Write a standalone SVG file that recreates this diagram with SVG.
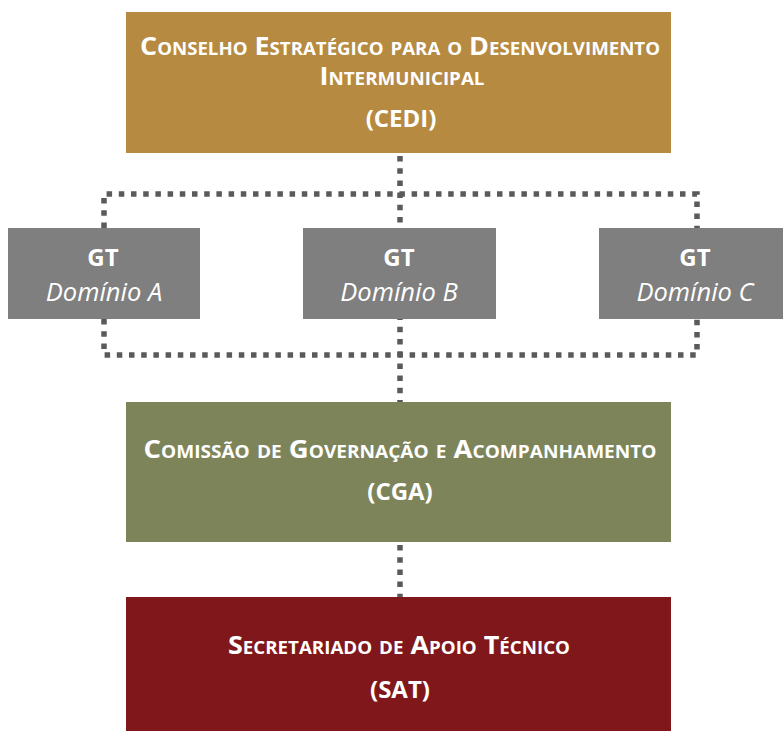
<svg xmlns="http://www.w3.org/2000/svg" width="783" height="731" viewBox="0 0 783 731">
<style>
.t{font-family:"Open Sans","Liberation Sans",sans-serif;font-weight:bold;fill:#fff;text-anchor:middle;font-variant:small-caps}
.g{font-family:"Open Sans","Liberation Sans",sans-serif;fill:#fff;text-anchor:middle}
.gt{font-size:24px;font-weight:bold}
.dm{font-size:25.5px;font-style:italic}
.dot{fill:none;stroke:#5a5a5a;stroke-width:5.5;stroke-dasharray:5.5 6.7}
</style>
<rect width="783" height="731" fill="#fff"/>
<g id="connectors">
<path class="dot" d="M400,156 V402"/>
<path class="dot" d="M104,228 V194 H697 V228"/>
<path class="dot" d="M104,319 V355 H697 V319"/>
<path class="dot" d="M400,545 V597"/>
</g>
<g id="cedi">
<rect x="126" y="12" width="545" height="141" fill="#b68a40"/>
<text class="t" x="400" y="55" font-size="24.5" textLength="520" lengthAdjust="spacingAndGlyphs">Conselho Estratégico para o Desenvolvimento</text>
<text class="t" x="402" y="85" font-size="24.5" textLength="165" lengthAdjust="spacingAndGlyphs">Intermunicipal</text>
<text class="t" x="401" y="127" font-size="24">(CEDI)</text>
</g>
<g id="gt-a">
<rect x="8" y="228" width="192" height="91" fill="#7f7f7f"/>
<text class="g gt" x="103" y="266">GT</text>
<text class="g dm" x="104" y="301">Domínio A</text>
</g>
<g id="gt-b">
<rect x="303" y="228" width="193" height="91" fill="#7f7f7f"/>
<text class="g gt" x="399" y="266">GT</text>
<text class="g dm" x="399" y="301">Domínio B</text>
</g>
<g id="gt-c">
<rect x="599" y="228" width="184" height="91" fill="#7f7f7f"/>
<text class="g gt" x="695" y="266">GT</text>
<text class="g dm" x="695" y="301">Domínio C</text>
</g>
<g id="cga">
<rect x="126" y="402" width="545" height="140" fill="#7e845a"/>
<text class="t" x="400" y="458" font-size="24.5" textLength="513" lengthAdjust="spacingAndGlyphs">Comissão de Governação e Acompanhamento</text>
<text class="t" x="400" y="500" font-size="24">(CGA)</text>
</g>
<g id="sat">
<rect x="126" y="597" width="545" height="134" fill="#7f171b"/>
<text class="t" x="399" y="654" font-size="24.5" textLength="342" lengthAdjust="spacingAndGlyphs">Secretariado de Apoio Técnico</text>
<text class="t" x="400" y="698" font-size="24">(SAT)</text>
</g>
</svg>
